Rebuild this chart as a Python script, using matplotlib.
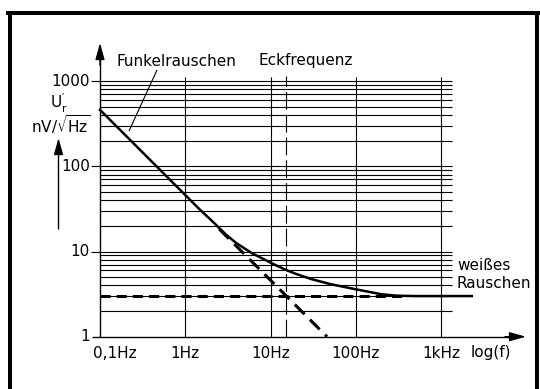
import numpy as np
import matplotlib
matplotlib.use("Agg")
import matplotlib.pyplot as plt
from matplotlib.lines import Line2D

# noise density (Hz, nV/sqrt(Hz))
freq = [0.1, 0.2, 0.5, 1, 1.5, 2, 3, 4, 6, 10, 15, 20, 30, 50, 100, 200,
        300, 500, 1000, 2300]
noise = [460, 230, 92, 46, 30.7, 23.5, 15.8, 12.5, 9.6, 7.4, 6.1, 5.45, 4.75,
         4.15, 3.6, 3.15, 3.03, 3.0, 3.0, 3.0]
flicker_f = [2.5, 46]
flicker_u = [18.4, 1.0]
white_f = [0.1, 380]
white_u = [3.0, 3.0]
corner_f = 15.3

x_ticks = [0.1, 1, 10, 100, 1000]
x_labels = ["0,1Hz", "1Hz", "10Hz", "100Hz", "1kHz"]
y_ticks = [1, 10, 100, 1000]
y_labels = ["1", "10", "100", "1000"]

W, H = 540, 389
X0, DX = 100, 85.25     # pixel of 0.1 Hz, pixels per decade
Y0, DY = 336.7, 85.2    # pixel of 1 nV, pixels per decade


def px2x(px):
    return 0.1 * 10 ** ((px - X0) / DX)


def px2y(py):
    return 10 ** ((Y0 - py) / DY)


fig = plt.figure(figsize=(W / 100, H / 100), dpi=100)
ax = fig.add_axes([0, 0, 1, 1])
ax.set_xscale("log")
ax.set_yscale("log")
ax.set_xlim(px2x(0), px2x(W))
ax.set_ylim(px2y(H), px2y(0))
ax.axis("off")

k = dict(color="black", solid_capstyle="butt")

# horizontal grid
for d in [1, 10, 100]:
    for m in range(1, 10):
        v = m * d
        if v == 1:
            continue
        x_start = px2x(91) if m == 1 else 0.1
        ax.plot([x_start, px2x(452)], [v, v], lw=0.8, **k)
ax.plot([px2x(91), px2x(452)], [1000, 1000], lw=0.8, **k)

# vertical grid
for f in [1, 10, 100, 1000]:
    ax.plot([f, f], [1, px2y(77)], lw=0.8, **k)

# axes with arrows
ax.plot([px2x(92), px2x(515)], [1, 1], lw=1.0, **k)
ax.plot([0.1, 0.1], [1, px2y(55)], lw=1.0, **k)
arr = dict(arrowstyle="-|>,head_length=1.0,head_width=0.28", color="black",
           lw=1.0, mutation_scale=10, shrinkA=0, shrinkB=0)
ax.annotate("", xy=(px2x(526), 1), xytext=(px2x(505), 1), arrowprops=arr)
ax.annotate("", xy=(0.1, px2y(43)), xytext=(0.1, px2y(65)), arrowprops=arr)
ax.annotate("", xy=(px2x(58.5), px2y(138)), xytext=(px2x(58.5), px2y(229)),
            arrowprops=arr)

# curves
ax.plot(white_f, white_u, lw=2.2, dashes=(3.3, 2.0), **k)
ax.plot(flicker_f, flicker_u, lw=2.2, dashes=(4.5, 2.5), **k)
ax.plot(freq, noise, lw=1.8, solid_joinstyle="round", color="black")
ax.plot([corner_f, corner_f], [1, px2y(76)], lw=0.8, dashes=(16, 4.5), **k)

# labels
fs = 11
for v, lab in zip(y_ticks, y_labels):
    ax.text(px2x(90), v, lab, ha="right", va="center", fontsize=fs)
for f, lab in zip(x_ticks, x_labels):
    xx = px2x(115) if f == 0.1 else f
    ax.text(xx, px2y(353), lab, ha="center", va="center", fontsize=fs)
ax.text(px2x(491), px2y(353), "log(f)", ha="center", va="center", fontsize=fs)

ax.text(px2x(116), px2y(61), "Funkelrauschen", ha="left", va="center", fontsize=fs)
ax.text(px2x(258), px2y(61), "Eckfrequenz", ha="left", va="center", fontsize=fs)
ax.plot([px2x(157), px2x(129)], [px2y(70), px2y(131)], lw=0.8, **k)
ax.text(px2x(457), px2y(266), "weißes", ha="left", va="center", fontsize=fs)
ax.text(px2x(457), px2y(283), "Rauschen", ha="left", va="center", fontsize=fs)

ax.text(px2x(59), px2y(103), r"$\mathregular{U_r^{\prime}}$", ha="center",
        va="center", fontsize=fs)
ax.text(px2x(61), px2y(125), r"nV/$\mathregular{\sqrt{Hz}}$", ha="center",
        va="center", fontsize=fs)

# frame
lw_b = 4 * 72 / 100
fig.add_artist(Line2D([10 / W, 10 / W], [0, 1 - 13 / H], lw=lw_b, color="black",
                      transform=fig.transFigure))
fig.add_artist(Line2D([8 / W, 539 / W], [1 - 13 / H, 1 - 13 / H], lw=lw_b,
                      color="black", transform=fig.transFigure))
fig.add_artist(Line2D([537 / W, 537 / W], [0, 1 - 13 / H], lw=lw_b, color="black",
                      transform=fig.transFigure))

fig.savefig("out.png", dpi=100)
